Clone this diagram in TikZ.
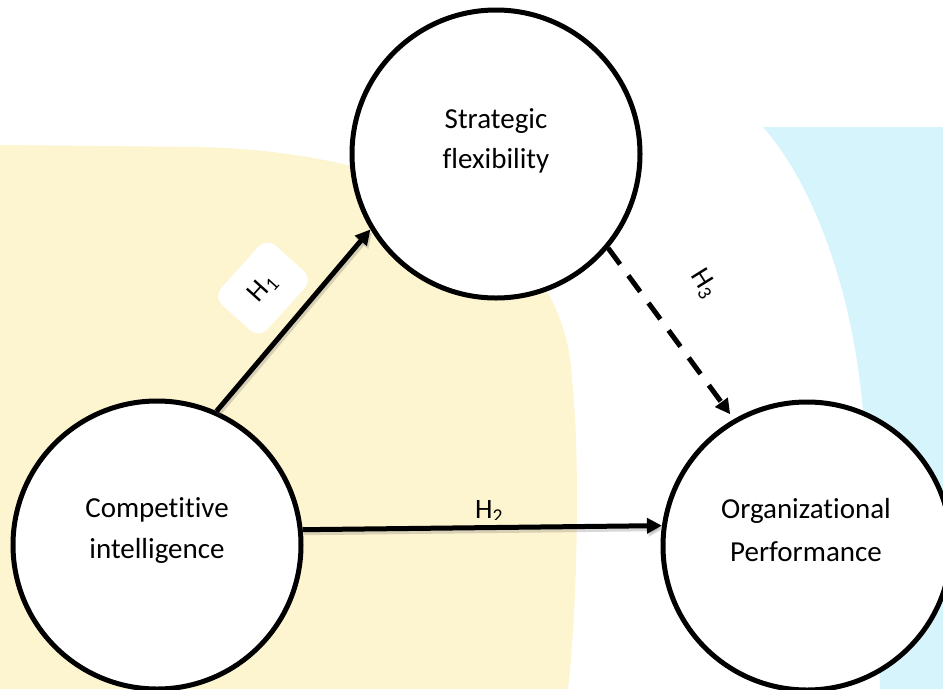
\documentclass[tikz,border=0pt]{standalone}
\usepackage{fontspec}
\setmainfont{Carlito}[Ligatures={NoCommon}]
\usetikzlibrary{arrows.meta}
\definecolor{bgyellow}{RGB}{253,244,208}
\definecolor{bgblue}{RGB}{214,244,252}
\begin{document}
\begin{tikzpicture}[x=1pt,y=-1pt,
  concept/.style={circle, draw=black, line width=5pt, fill=white, minimum size=288pt, inner sep=0pt},
  ctext/.style={anchor=base, inner sep=0pt, font=\fontsize{29}{34}\selectfont},
  hlab/.style={font=\fontsize{28}{32}\selectfont, inner sep=0pt},
  hbox/.style={fill=white, rounded corners=12pt, minimum width=80pt, minimum height=62pt},
  arr/.style={line width=5pt, -{Triangle[length=15pt,width=15pt]}},
  darr/.style={line width=5pt, dash pattern=on 20pt off 14pt, -{Triangle[length=15pt,width=15pt]}},
  shade/.style={draw=black!60, opacity=0.25, transform canvas={shift={(1.5pt,-3pt)}}}]
\useasboundingbox (0,0) rectangle (943,689);
\fill[white] (0,0) rectangle (943,689);
\fill[bgyellow] (0,145) -- (200,147) .. controls (400,152) and (565,225) .. (572,380) .. controls (580,450) and (578,600) .. (568,689) -- (0,689) -- cycle;
\fill[bgblue] (763,127) .. controls (810,180) and (850,280) .. (862,400) .. controls (872,500) and (878,600) .. (880,689) -- (943,689) -- (943,127) -- cycle;
\node[concept] (sf) at (496,154) {};
\node[concept] (ci) at (157,545) {};
\node[concept] (op) at (807,546) {};
\node[ctext] (sft1) at (496,128) {Strategic};
\node[ctext] (sft2) at (496,168) {flexibility};
\node[ctext] (cit1) at (157,517) {Competitive};
\node[ctext] (cit2) at (157,558) {intelligence};
\node[ctext] (opt1) at (806,518) {Organizational};
\node[ctext] (opt2) at (806,561) {Performance};
\draw[arr, shade] (ci.66) -- (sf.211);
\draw[arr, shade] (ci.6.7) -- (op.172.9);
\draw[arr] (ci.66) -- (sf.211);
\draw[arr] (ci.6.7) -- (op.172.9);
\draw[darr, shorten >=6pt] (sf.-40) -- (op.120);
\node[hbox, hlab, rotate=48] (h1) at (263,288) {H\textsubscript{1}};
\begin{scope}
\clip (440,480) rectangle (540,519);
\node[hlab, anchor=base] (h2) at (489,518) {H\textsubscript{2}};
\end{scope}
\node[hlab, rotate=-58] (h3) at (704,284) {H\textsubscript{3}};
\end{tikzpicture}
\end{document}
